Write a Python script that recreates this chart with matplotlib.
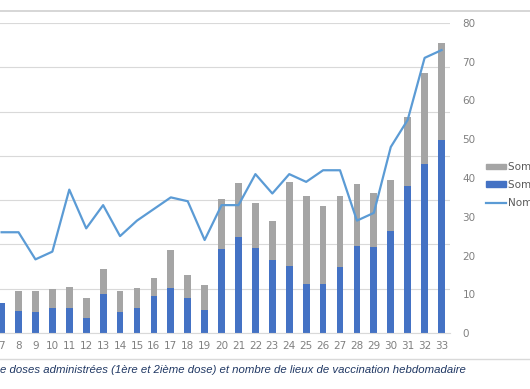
import numpy as np
import matplotlib
matplotlib.use('Agg')
import matplotlib.pyplot as plt
from matplotlib.patches import Patch
from matplotlib.lines import Line2D

# semaines visibles dans le recadrage
semaines = list(range(7, 34))
# doses (echelle gauche, non visible dans le recadrage)
dose1 = [680, 490, 470, 560, 560, 350, 890, 470, 560, 840, 1020, 800, 520,
         1900, 2160, 1930, 1640, 1510, 1100, 1100, 1480, 1970, 1940, 2300,
         3330, 3810, 4350]
total = [680, 955, 940, 1000, 1040, 800, 1440, 950, 1010, 1240, 1870, 1320, 1080,
         3030, 3380, 2940, 2520, 3410, 3090, 2860, 3090, 3370, 3170, 3450,
         4870, 5880, 6550]
dose2 = [t - d for t, d in zip(total, dose1)]
# nombre de lieux (echelle droite)
lieux = [26, 26, 19, 21, 37, 27, 33, 25, 29, 32, 35, 34, 24,
         33, 33, 41, 36, 41, 39, 42, 42, 29, 31, 48, 55, 71, 73]

c_gris = '#a5a5a5'
c_bleu = '#4472c4'
c_ligne = '#5b9bd5'
c_txt = '#808080'

fig = plt.figure(figsize=(5.30, 3.89), dpi=100)
ax = fig.add_axes([0.0, 56 / 389, 450 / 530, 310 / 389])
ax2 = ax.twinx()

ax.bar(semaines, dose1, width=0.4, color=c_bleu, zorder=2)
ax.bar(semaines, dose2, width=0.4, bottom=dose1, color=c_gris, zorder=2)
ax2.plot(semaines, lieux, color=c_ligne, lw=1.6, zorder=3)

ax.set_xlim(7 - 1.6 / 16.92, 33.5)
ax.set_ylim(0, 7000)
ax.set_yticks(np.arange(0, 7001, 1000))
ax.yaxis.grid(True, color='#d9d9d9', lw=0.8, zorder=0)
ax.set_axisbelow(True)
ax.tick_params(axis='y', left=False, labelleft=False)
ax.set_xticks(semaines)
ax.set_xticklabels([str(s) for s in semaines])
ax.tick_params(axis='x', length=0, labelsize=7.5, colors=c_txt, pad=6)

ax2.set_ylim(0, 80)
ax2.set_yticks(range(0, 81, 10))
ax2.tick_params(axis='y', length=0, labelsize=7.5, colors=c_txt, pad=9)
for a in (ax, ax2):
    for s in a.spines.values():
        s.set_visible(False)
ax.spines['bottom'].set_visible(True)
ax.spines['bottom'].set_color('#d9d9d9')

poignees = [Patch(color=c_gris), Patch(color=c_bleu),
            Line2D([], [], color=c_ligne, lw=1.6)]
noms = ['Somme de 2ième dose', 'Somme de 1ère dose', 'Nombre de lieux de vaccination']
fig.legend(poignees, noms, loc='center left', bbox_to_anchor=(481 / 530, 1 - 185 / 389),
           frameon=False, fontsize=7.5, labelcolor='#595959', borderpad=0,
           handlelength=1.9, handleheight=0.45, handletextpad=0.2, labelspacing=0.75)

# cadre du graphique (haut et bas)
fig.add_artist(Line2D([0, 1], [1 - 11 / 389] * 2, color='#d0d0d0', lw=1.2))
fig.add_artist(Line2D([0, 1], [1 - 359 / 389] * 2, color='#d9d9d9', lw=1.0))

fig.text(0.0, 1 - 370 / 389,
         'e doses administrées (1ère et 2ième dose) et nombre de lieux de vaccination hebdomadaire',
         style='italic', color='#203864', fontsize=8.2, family='Liberation Sans',
         va='center', ha='left')

fig.savefig('out.png', dpi=100)
